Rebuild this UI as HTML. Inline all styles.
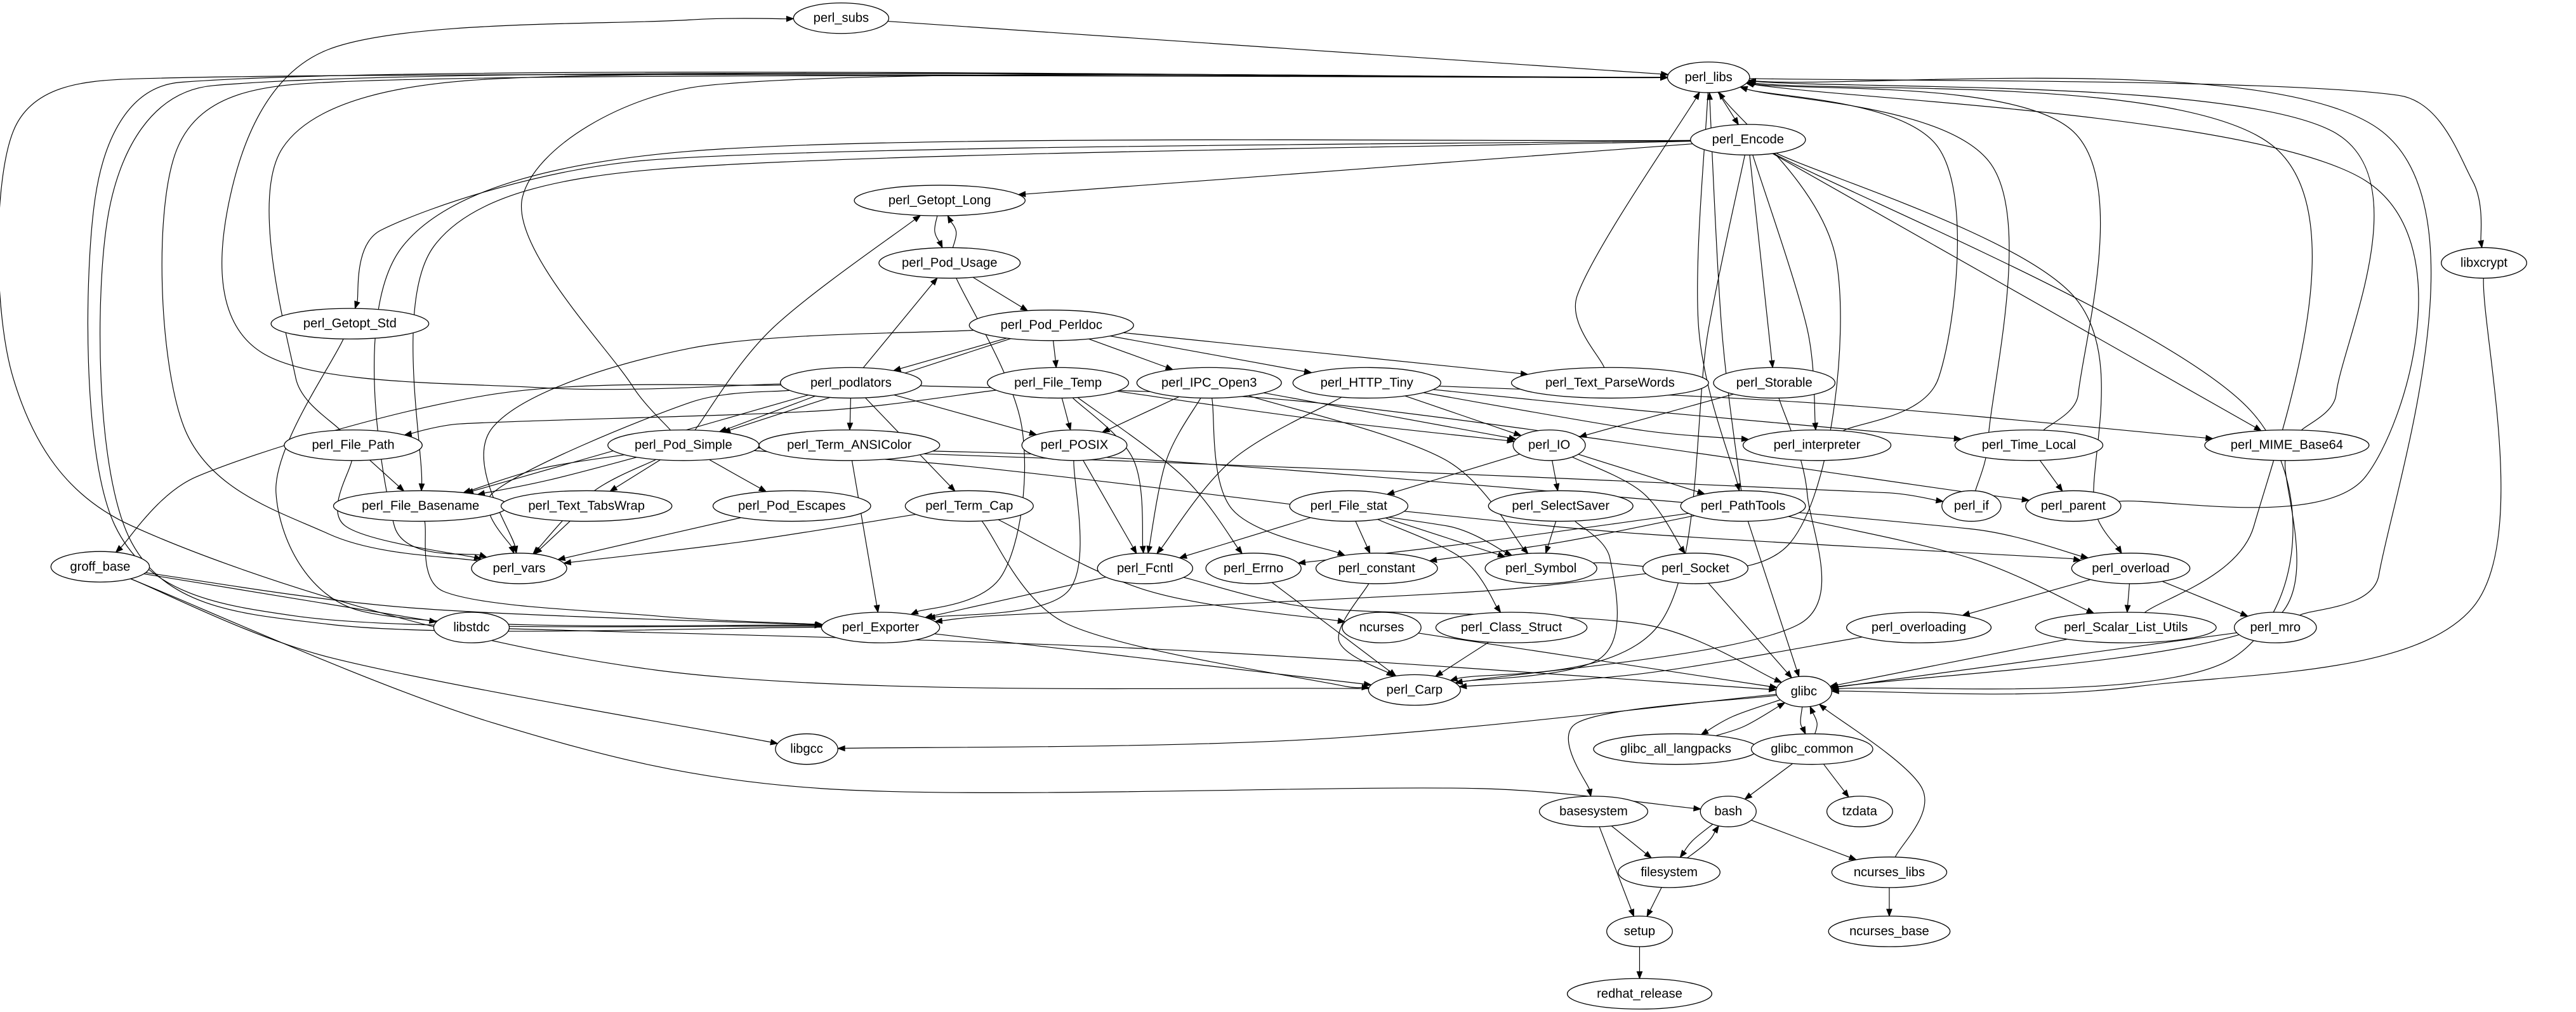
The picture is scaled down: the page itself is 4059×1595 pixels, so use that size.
<!DOCTYPE html>
<html><head><meta charset="utf-8"><style>
html,body{margin:0;padding:0;background:#fff;}
svg{display:block;}
text{font-family:"Liberation Sans","DejaVu Sans",sans-serif;font-size:7.8px;fill:#000;}
</style></head><body>
<svg id="g" xmlns="http://www.w3.org/2000/svg" width="4059" height="1595" viewBox="0 0 1568 616">
<rect width="1568" height="616" fill="#fff"/>
<g id="edges" fill="none" stroke="#000" stroke-width="0.45"></g>
<g id="arrows" fill="#000" stroke="#000" stroke-width="0.4"></g>
<g id="nodes" fill="#fff" stroke="#000" stroke-width="0.5">
<ellipse cx="512" cy="11" rx="29" ry="9.3"/><ellipse cx="1040" cy="47" rx="25" ry="9.3"/><ellipse cx="1064" cy="85" rx="35" ry="9.3"/><ellipse cx="1512" cy="160" rx="26" ry="9.3"/><ellipse cx="572" cy="122" rx="52" ry="9.3"/><ellipse cx="578" cy="160" rx="43" ry="9.3"/><ellipse cx="213" cy="197" rx="48" ry="9.3"/><ellipse cx="640" cy="198" rx="50" ry="9.3"/><ellipse cx="1080" cy="233" rx="37" ry="9.3"/><ellipse cx="518" cy="233" rx="43" ry="9.3"/><ellipse cx="644" cy="233" rx="43" ry="9.3"/><ellipse cx="736" cy="233" rx="44" ry="9.3"/><ellipse cx="832" cy="233" rx="45" ry="9.3"/><ellipse cx="980" cy="233" rx="60" ry="9.3"/><ellipse cx="215" cy="271" rx="42" ry="9.3"/><ellipse cx="517" cy="271" rx="55" ry="9.3"/><ellipse cx="654" cy="271" rx="32" ry="9.3"/><ellipse cx="943" cy="271" rx="22" ry="9.3"/><ellipse cx="1106" cy="271" rx="45" ry="9.3"/><ellipse cx="1235" cy="271" rx="45" ry="9.3"/><ellipse cx="1392" cy="271" rx="50" ry="9.3"/><ellipse cx="416" cy="271" rx="46" ry="9.3"/><ellipse cx="256" cy="308" rx="53" ry="9.3"/><ellipse cx="357" cy="308" rx="52" ry="9.3"/><ellipse cx="482" cy="308" rx="48" ry="9.3"/><ellipse cx="590" cy="308" rx="39" ry="9.3"/><ellipse cx="821" cy="308" rx="36" ry="9.3"/><ellipse cx="950" cy="308" rx="44" ry="9.3"/><ellipse cx="1061" cy="308" rx="38" ry="9.3"/><ellipse cx="1200" cy="308" rx="18" ry="9.3"/><ellipse cx="1262" cy="308" rx="29" ry="9.3"/><ellipse cx="316" cy="346" rx="29" ry="9.3"/><ellipse cx="61" cy="345" rx="30" ry="9.3"/><ellipse cx="697" cy="346" rx="29" ry="9.3"/><ellipse cx="763" cy="346" rx="29" ry="9.3"/><ellipse cx="838" cy="346" rx="37" ry="9.3"/><ellipse cx="938" cy="346" rx="34" ry="9.3"/><ellipse cx="1032" cy="346" rx="32" ry="9.3"/><ellipse cx="1297" cy="346" rx="36" ry="9.3"/><ellipse cx="536" cy="382" rx="36" ry="9.3"/><ellipse cx="287" cy="382" rx="23" ry="9.3"/><ellipse cx="841" cy="382" rx="24" ry="9.3"/><ellipse cx="920" cy="382" rx="46" ry="9.3"/><ellipse cx="1168" cy="382" rx="44" ry="9.3"/><ellipse cx="1294" cy="382" rx="55" ry="9.3"/><ellipse cx="1385" cy="382" rx="25" ry="9.3"/><ellipse cx="861" cy="420" rx="28" ry="9.3"/><ellipse cx="1098" cy="421" rx="17" ry="9.3"/><ellipse cx="491" cy="456" rx="19" ry="9.3"/><ellipse cx="1020" cy="456" rx="50" ry="9.3"/><ellipse cx="1103" cy="456" rx="37" ry="9.3"/><ellipse cx="970" cy="494" rx="33" ry="9.3"/><ellipse cx="1052" cy="494" rx="17" ry="9.3"/><ellipse cx="1132" cy="494" rx="20" ry="9.3"/><ellipse cx="1016" cy="531" rx="31" ry="9.3"/><ellipse cx="1150" cy="531" rx="35" ry="9.3"/><ellipse cx="998" cy="567" rx="20" ry="9.3"/><ellipse cx="1150" cy="567" rx="37" ry="9.3"/><ellipse cx="998" cy="605" rx="44" ry="9.3"/>
</g>
<g text-anchor="middle" dominant-baseline="central">
<text x="512" y="11">perl_subs</text><text x="1040" y="47">perl_libs</text><text x="1064" y="85">perl_Encode</text><text x="1512" y="160">libxcrypt</text><text x="572" y="122">perl_Getopt_Long</text><text x="578" y="160">perl_Pod_Usage</text><text x="213" y="197">perl_Getopt_Std</text><text x="640" y="198">perl_Pod_Perldoc</text><text x="1080" y="233">perl_Storable</text><text x="518" y="233">perl_podlators</text><text x="644" y="233">perl_File_Temp</text><text x="736" y="233">perl_IPC_Open3</text><text x="832" y="233">perl_HTTP_Tiny</text><text x="980" y="233">perl_Text_ParseWords</text><text x="215" y="271">perl_File_Path</text><text x="517" y="271">perl_Term_ANSIColor</text><text x="654" y="271">perl_POSIX</text><text x="943" y="271">perl_IO</text><text x="1106" y="271">perl_interpreter</text><text x="1235" y="271">perl_Time_Local</text><text x="1392" y="271">perl_MIME_Base64</text><text x="416" y="271">perl_Pod_Simple</text><text x="256" y="308">perl_File_Basename</text><text x="357" y="308">perl_Text_TabsWrap</text><text x="482" y="308">perl_Pod_Escapes</text><text x="590" y="308">perl_Term_Cap</text><text x="821" y="308">perl_File_stat</text><text x="950" y="308">perl_SelectSaver</text><text x="1061" y="308">perl_PathTools</text><text x="1200" y="308">perl_if</text><text x="1262" y="308">perl_parent</text><text x="316" y="346">perl_vars</text><text x="61" y="345">groff_base</text><text x="697" y="346">perl_Fcntl</text><text x="763" y="346">perl_Errno</text><text x="838" y="346">perl_constant</text><text x="938" y="346">perl_Symbol</text><text x="1032" y="346">perl_Socket</text><text x="1297" y="346">perl_overload</text><text x="536" y="382">perl_Exporter</text><text x="287" y="382">libstdc</text><text x="841" y="382">ncurses</text><text x="920" y="382">perl_Class_Struct</text><text x="1168" y="382">perl_overloading</text><text x="1294" y="382">perl_Scalar_List_Utils</text><text x="1385" y="382">perl_mro</text><text x="861" y="420">perl_Carp</text><text x="1098" y="421">glibc</text><text x="491" y="456">libgcc</text><text x="1020" y="456">glibc_all_langpacks</text><text x="1103" y="456">glibc_common</text><text x="970" y="494">basesystem</text><text x="1052" y="494">bash</text><text x="1132" y="494">tzdata</text><text x="1016" y="531">filesystem</text><text x="1150" y="531">ncurses_libs</text><text x="998" y="567">setup</text><text x="1150" y="567">ncurses_base</text><text x="998" y="605">redhat_release</text>
</g>
</svg>
<script>
var N={subs:[512,11,29],libs:[1040,47,25],Encode:[1064,85,35],xcrypt:[1512,160,26],GetoptLong:[572,122,52],PodUsage:[578,160,43],GetoptStd:[213,197,48],Perldoc:[640,198,50],Storable:[1080,233,37],podlators:[518,233,43],FileTemp:[644,233,43],IPC:[736,233,44],HTTP:[832,233,45],ParseWords:[980,233,60],FilePath:[215,271,42],ANSI:[517,271,55],POSIX:[654,271,32],IO:[943,271,22],interp:[1106,271,45],TimeLocal:[1235,271,45],MIME:[1392,271,50],PodSimple:[416,271,46],Basename:[256,308,53],TabsWrap:[357,308,52],PodEscapes:[482,308,48],TermCap:[590,308,39],FileStat:[821,308,36],SelectSaver:[950,308,44],PathTools:[1061,308,38],"if":[1200,308,18],parent:[1262,308,29],vars:[316,346,29],groff:[61,345,30],Fcntl:[697,346,29],Errno:[763,346,29],constant:[838,346,37],Symbol:[938,346,34],Socket:[1032,346,32],overload:[1297,346,36],Exporter:[536,382,36],libstdc:[287,382,23],ncurses:[841,382,24],ClassStruct:[920,382,46],overloading:[1168,382,44],SLU:[1294,382,55],mro:[1385,382,25],Carp:[861,420,28],glibc:[1098,421,17],libgcc:[491,456,19],langpacks:[1020,456,50],gcommon:[1103,456,37],basesystem:[970,494,33],bash:[1052,494,17],tzdata:[1132,494,20],filesystem:[1016,531,31],ncurses_libs:[1150,531,35],setup:[998,567,20],ncurses_base:[1150,567,37],redhat:[998,605,44]};
var E=[
["subs","libs"],["podlators","subs",[[330,236],[160,215],[140,120],[200,30],[420,12]]],["libs","Encode"],["libs","xcrypt",[[1460,58],[1505,110]]],["xcrypt","glibc",[[1505,370],[1300,418]]],
["Carp","libs",[[400,408],[80,320],[8,230],[8,80],[80,48]]],["Exporter","libs",[[180,375],[70,320],[58,120],[110,50]]],["Exporter","libs",[[200,380],[80,330],[66,130],[130,52]]],
["vars","libs",[[200,325],[112,260],[108,90],[200,50]]],["FilePath","libs",[[180,230],[172,90],[300,48]]],["PodSimple","libs",[[385,235],[318,120],[430,52]]],["ParseWords","libs",[[960,180]]],
["interp","libs",[[1180,230],[1180,90]]],["if","libs",[[1210,270],[1212,100]]],["TimeLocal","libs",[[1265,240],[1262,80]]],["MIME","libs",[[1422,240],[1420,80]]],["parent","libs",[[1440,290],[1440,110]]],["SLU","libs",[[1372,320],[1385,90]]],["mro","libs",[[1448,350],[1450,80]]],["PathTools","libs",[[1048,200]]],["libs","PathTools",[[1034,200]]],["Symbol","libs",[[1090,330],[1118,160]]],
["Encode","GetoptLong"],["Encode","GetoptStd",[[400,97],[232,140]]],["Encode","Basename",[[400,103],[264,150]]],["Encode","vars",[[420,92],[245,150],[240,320]]],["Encode","Storable"],["Encode","interp",[[1100,200]]],["Encode","overload",[[1262,180],[1275,310]]],["Encode","MIME"],["Encode","glibc",[[1370,250],[1360,400]]],["Encode","Carp",[[1040,200],[1010,380]]],
["GetoptLong","PodUsage",[[569,141]]],["PodUsage","GetoptLong",[[582,141]]],["PodUsage","Perldoc"],["PodUsage","Exporter",[[622,260],[610,350]]],["GetoptStd","Exporter",[[168,300],[220,372]]],
["Perldoc","podlators"],["Perldoc","FileTemp"],["Perldoc","IPC"],["Perldoc","HTTP"],["Perldoc","ParseWords"],["Perldoc","vars",[[420,212],[300,260]]],["Perldoc","PodSimple"],
["podlators","PodUsage"],["podlators","PodSimple"],["podlators","ANSI"],["podlators","POSIX"],["podlators","TermCap"],["podlators","Basename"],["podlators","vars",[[420,245],[300,300]]],["podlators","groff",[[300,240],[120,290]]],["podlators","parent",[[800,245],[1200,300]]],
["FileTemp","FilePath",[[500,250],[280,258]]],["FileTemp","POSIX"],["FileTemp","Fcntl",[[690,280]]],["FileTemp","Errno",[[720,290]]],["FileTemp","IO",[[800,255]]],
["IPC","POSIX"],["IPC","Fcntl",[[710,280]]],["IPC","constant",[[750,310]]],["IPC","Symbol",[[880,280]]],["IPC","IO"],
["HTTP","Fcntl",[[750,280]]],["HTTP","IO"],["HTTP","TimeLocal",[[1000,250]]],["HTTP","MIME",[[1100,245]]],["HTTP","interp",[[1000,262]]],
["IO","FileStat"],["IO","SelectSaver"],["IO","Socket",[[1000,300]]],["IO","PathTools"],["Storable","IO"],["Storable","Carp",[[1100,300],[1095,380]]],["TimeLocal","parent"],
["PodSimple","GetoptLong",[[470,200]]],["PodSimple","Basename",[[330,285]]],["PodSimple","Basename",[[335,292]]],["PodSimple","TabsWrap"],["PodSimple","PodEscapes"],["PodSimple","vars",[[360,300]]],["PodSimple","Symbol",[[600,285],[880,320]]],["PodSimple","if",[[800,285],[1150,300]]],["PodSimple","overload",[[700,280],[1200,322]]],
["FilePath","Basename"],["FilePath","vars",[[210,320]]],["Basename","Exporter",[[270,360],[400,375]]],["TabsWrap","vars"],["PodEscapes","vars"],["TermCap","vars",[[450,330]]],["TermCap","Carp",[[650,380],[820,418]]],["TermCap","ncurses",[[700,360]]],
["ANSI","Exporter"],["POSIX","Fcntl"],["POSIX","Exporter",[[650,360]]],
["FileStat","Fcntl"],["FileStat","constant"],["FileStat","Symbol"],["FileStat","ClassStruct",[[890,340]]],["FileStat","overload",[[1000,325],[1260,340]]],
["SelectSaver","Symbol"],["SelectSaver","Carp",[[980,340],[975,400]]],["PathTools","Errno",[[900,330]]],["PathTools","constant",[[950,330]]],["PathTools","glibc"],["PathTools","SLU",[[1200,340]]],
["Fcntl","Exporter"],["Fcntl","glibc",[[800,370],[1000,380]]],["Errno","Carp"],["constant","Carp",[[815,390]]],["ClassStruct","Carp"],["Socket","Exporter",[[900,360],[600,375]]],["Socket","glibc"],["ncurses","glibc"],
["overload","overloading"],["overload","SLU"],["overload","mro"],["overloading","Carp",[[1000,410]]],["SLU","glibc"],["mro","glibc"],["MIME","glibc",[[1380,380]]],["Exporter","Carp"],
["groff","libstdc"],["groff","Exporter",[[250,370]]],["groff","libgcc",[[200,400]]],["groff","bash",[[300,440],[500,480],[900,480]]],["libstdc","glibc",[[700,395]]],
["glibc","libgcc",[[800,450]]],["glibc","langpacks",[[1055,436]]],["langpacks","glibc",[[1062,442]]],["glibc","gcommon",[[1096,440]]],["gcommon","glibc",[[1106,440]]],["glibc","basesystem",[[960,440]]],
["gcommon","bash"],["gcommon","tzdata"],["bash","filesystem",[[1030,512]]],["filesystem","bash",[[1040,512]]],["bash","ncurses_libs"],["basesystem","filesystem"],["basesystem","setup"],["filesystem","setup"],["setup","redhat"],["ncurses_libs","glibc",[[1170,480]]],["ncurses_libs","ncurses_base"]
];
function clip(n,p){var dx=p[0]-n[0],dy=p[1]-n[1];var t=1/Math.sqrt((dx/n[2])*(dx/n[2])+(dy/9.3)*(dy/9.3));if(t>1)t=1;return [n[0]+dx*t,n[1]+dy*t];}
function lim(v,m){var l=Math.sqrt(v[0]*v[0]+v[1]*v[1]);if(l>m&&l>0){return [v[0]*m/l,v[1]*m/l];}return v;}
var ep="",ap="";
E.forEach(function(e){var a=N[e[0]],b=N[e[1]],w=e[2]||[];
var s=clip(a,w.length?w[0]:b),t=clip(b,w.length?w[w.length-1]:a);
var P=[s].concat(w,[t]);var n=P.length;var segs=[];
for(var i=0;i<n-1;i++){var p0=P[i>0?i-1:i],p1=P[i],p2=P[i+1],p3=P[i+2<n?i+2:i+1];
var sl=Math.sqrt((p2[0]-p1[0])*(p2[0]-p1[0])+(p2[1]-p1[1])*(p2[1]-p1[1]));
var t1=lim([(p2[0]-p0[0])/6,(p2[1]-p0[1])/6],0.38*sl),t2=lim([(p3[0]-p1[0])/6,(p3[1]-p1[1])/6],0.38*sl);
segs.push([[p1[0]+t1[0],p1[1]+t1[1]],[p2[0]-t2[0],p2[1]-t2[1]],p2]);}
var last=segs[segs.length-1];var c=last[1];var dx=t[0]-c[0],dy=t[1]-c[1];var L=Math.sqrt(dx*dx+dy*dy);
if(L<0.5){c=last[0];dx=t[0]-c[0];dy=t[1]-c[1];L=Math.sqrt(dx*dx+dy*dy)||1;}
dx/=L;dy/=L;
var AL=4.2,AW=1.6;var B=[t[0]-dx*AL,t[1]-dy*AL];last[2]=B;
if(L<AL*1.5){last[1]=B;}
var d="M"+s[0].toFixed(1)+","+s[1].toFixed(1);segs.forEach(function(g){d+="C"+g[0][0].toFixed(1)+","+g[0][1].toFixed(1)+" "+g[1][0].toFixed(1)+","+g[1][1].toFixed(1)+" "+g[2][0].toFixed(1)+","+g[2][1].toFixed(1);});
ep+='<path d="'+d+'"/>';
ap+='<path d="M'+t[0].toFixed(1)+','+t[1].toFixed(1)+'L'+(B[0]-dy*AW).toFixed(1)+','+(B[1]+dx*AW).toFixed(1)+'L'+(B[0]+dy*AW).toFixed(1)+','+(B[1]-dx*AW).toFixed(1)+'Z"/>';
});
document.getElementById("edges").innerHTML=ep;document.getElementById("arrows").innerHTML=ap;
</script>
</body></html>
